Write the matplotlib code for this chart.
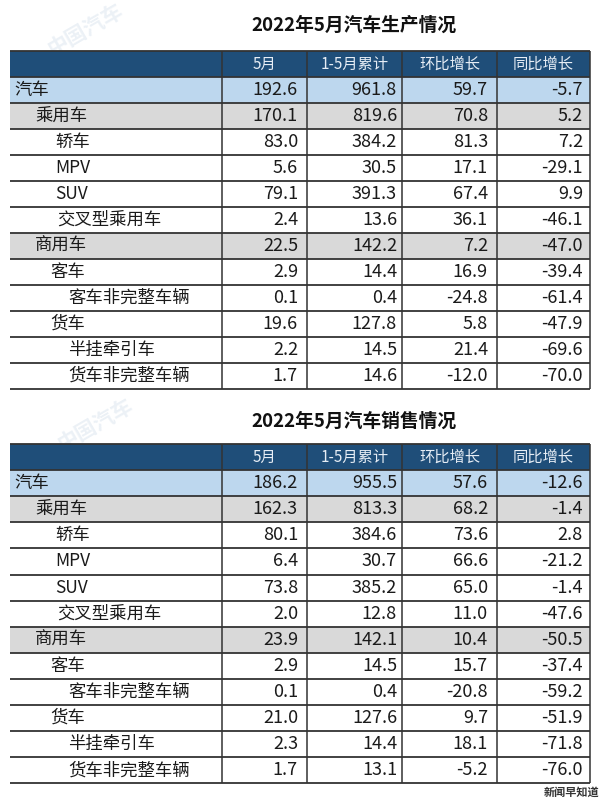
import matplotlib
matplotlib.use("Agg")
import matplotlib.pyplot as plt
from matplotlib.patches import Rectangle

plt.rcParams['font.family'] = ['Noto Sans CJK SC', 'DejaVu Sans']

# ---------------- data ----------------
categories = ['汽车', '乘用车', '轿车', 'MPV', 'SUV', '交叉型乘用车',
              '商用车', '客车', '客车非完整车辆', '货车', '半挂牵引车', '货车非完整车辆']
columns = ['5月', '1-5月累计', '环比增长', '同比增长']

prod_title = '2022年5月汽车生产情况'
prod_month = [192.6, 170.1, 83.0, 5.6, 79.1, 2.4, 22.5, 2.9, 0.1, 19.6, 2.2, 1.7]
prod_cum = [961.8, 819.6, 384.2, 30.5, 391.3, 13.6, 142.2, 14.4, 0.4, 127.8, 14.5, 14.6]
prod_mom = [59.7, 70.8, 81.3, 17.1, 67.4, 36.1, 7.2, 16.9, -24.8, 5.8, 21.4, -12.0]
prod_yoy = [-5.7, 5.2, 7.2, -29.1, 9.9, -46.1, -47.0, -39.4, -61.4, -47.9, -69.6, -70.0]

sales_title = '2022年5月汽车销售情况'
sales_month = [186.2, 162.3, 80.1, 6.4, 73.8, 2.0, 23.9, 2.9, 0.1, 21.0, 2.3, 1.7]
sales_cum = [955.5, 813.3, 384.6, 30.7, 385.2, 12.8, 142.1, 14.5, 0.4, 127.6, 14.4, 13.1]
sales_mom = [57.6, 68.2, 73.6, 66.6, 65.0, 11.0, 10.4, 15.7, -20.8, 9.7, 18.1, -5.2]
sales_yoy = [-12.6, -1.4, 2.8, -21.2, -1.4, -47.6, -50.5, -37.4, -59.2, -51.9, -71.8, -76.0]

footer = '新闻早知道'

# ---------------- styling / layout ----------------
indent = [4, 25, 45, 45, 45, 47, 25, 40, 58, 40, 58, 58]
row_kind = ['top', 'sub', '', '', '', '', 'sub', '', '', '', '', '']
col_edges = [10, 222, 307, 402, 497, 590]
pad_right = [9, 5, 9, 7]
HEADER_BG = '#1F4E79'
TOP_BG = '#BDD7EE'
SUB_BG = '#D9D9D9'
LINE = '#333333'

fig = plt.figure(figsize=(6, 8), dpi=100)
ax = fig.add_axes([0, 0, 1, 1])
ax.set_xlim(0, 600)
ax.set_ylim(800, 0)
ax.axis('off')

# faint watermarks (in the open areas beside the titles)
wm_color = '#9fb9d3'
for (x, y, s, r, fs) in [(85, 30, '中国汽车', 30, 15), (95, 425, '中国汽车', 30, 15)]:
    ax.text(x, y, s, rotation=r, fontsize=fs, color=wm_color, alpha=0.2,
            ha='center', va='center', fontweight='bold', zorder=0)


def draw_table(title, title_y, top, row_h, values):
    ax.text(354, title_y, title, ha='center', va='center', fontsize=13.5,
            fontweight='bold', color='#111111')
    x0, x1 = col_edges[0], col_edges[-1]
    # header
    ax.add_patch(Rectangle((x0, top), x1 - x0, row_h, facecolor=HEADER_BG,
                           edgecolor='none', zorder=1))
    for j, c in enumerate(columns):
        cx = (col_edges[j + 1] + col_edges[j + 2]) / 2
        ax.text(cx, top + row_h / 2, c, ha='center', va='center', fontsize=11,
                color='#E6EDF5', zorder=3)
    # rows
    for i, cat in enumerate(categories):
        y = top + row_h * (i + 1)
        bg = {'top': TOP_BG, 'sub': SUB_BG}.get(row_kind[i], 'white')
        ax.add_patch(Rectangle((x0, y), x1 - x0, row_h, facecolor=bg,
                               edgecolor='none', zorder=1))
        ax.text(x0 + indent[i], y + row_h / 2, cat, ha='left', va='center',
                fontsize=12.5, color='#1a1a1a', zorder=3)
        for j, vals in enumerate(values):
            ax.text(col_edges[j + 2] - pad_right[j], y + row_h / 2,
                    f'{vals[i]:.1f}', ha='right', va='center', fontsize=13,
                    color='#1a1a1a', zorder=3)
    n = len(categories)
    bottom = top + row_h * (n + 1)
    # horizontal lines
    for k in range(n + 2):
        yy = top + row_h * k
        ax.plot([x0, x1], [yy, yy], color=LINE, lw=1.3, zorder=2,
                solid_capstyle='butt')
    # vertical lines
    for xe in col_edges[1:]:
        ax.plot([xe, xe], [top, bottom], color=LINE, lw=1.1, zorder=2,
                solid_capstyle='butt')


draw_table(prod_title, 25, 51, 26,
           [prod_month, prod_cum, prod_mom, prod_yoy])
draw_table(sales_title, 421, 444, 26.1,
           [sales_month, sales_cum, sales_mom, sales_yoy])

ax.text(599, 792, footer, ha='right', va='center', fontsize=8,
        color='#333333', fontweight='bold')

fig.savefig('out.png', dpi=100)
